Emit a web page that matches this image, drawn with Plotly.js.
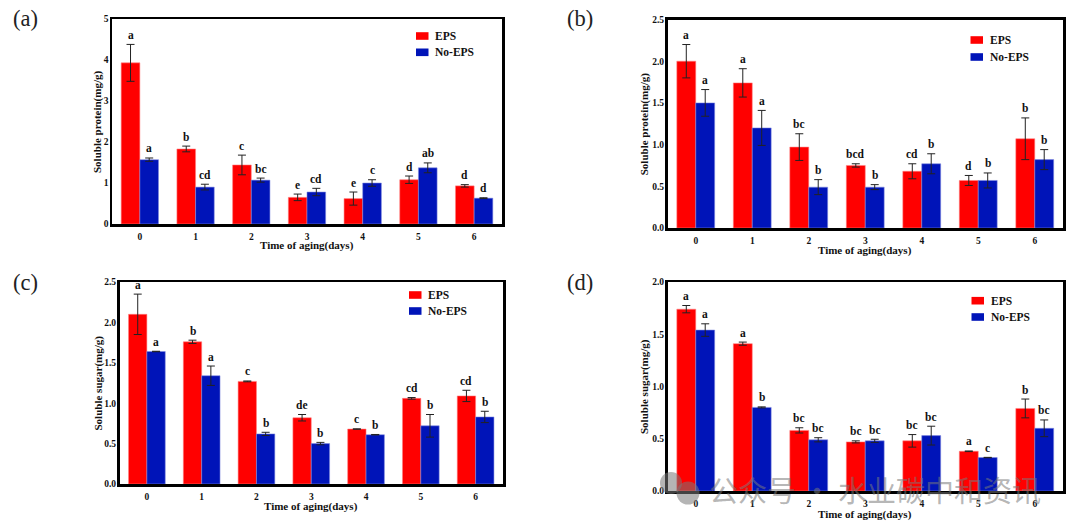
<!DOCTYPE html>
<html><head><meta charset="utf-8">
<script src="https://cdn.plot.ly/plotly-3.0.1.min.js"></script>
<style>html,body{margin:0;padding:0;background:#fff}#c{width:1073px;height:532px}</style>
</head><body><div id="c"></div>
<script>
const days = ['0','1','2','3','4','5','6'];
const seriesNames = ['EPS','No-EPS'];
const xTitle = 'Time of aging(days)';

const aEps = [3.93,1.83,1.44,0.65,0.62,1.08,0.93];
const aEpsErr = [0.45,0.07,0.24,0.08,0.16,0.09,0.03];
const aNo = [1.57,0.90,1.07,0.78,1.00,1.37,0.63];
const aNoErr = [0.04,0.07,0.05,0.09,0.08,0.12,0.01];
const aEpsSig = ['a','b','c','e','e','d','d'];
const aNoSig = ['a','cd','bc','cd','c','ab','d'];

const bEps = [2.00,1.74,0.97,0.75,0.68,0.57,1.07];
const bEpsErr = [0.20,0.17,0.16,0.02,0.09,0.06,0.25];
const bNo = [1.50,1.20,0.49,0.49,0.77,0.57,0.82];
const bNoErr = [0.16,0.21,0.09,0.03,0.12,0.09,0.12];
const bEpsSig = ['a','a','bc','bcd','cd','d','b'];
const bNoSig = ['a','a','b','b','b','b','b'];

const cEps = [2.10,1.76,1.27,0.82,0.68,1.06,1.09];
const cEpsErr = [0.25,0.02,0.005,0.04,0.002,0.01,0.07];
const cNo = [1.64,1.34,0.62,0.50,0.61,0.72,0.83];
const cNoErr = [0.003,0.12,0.02,0.015,0.003,0.14,0.07];
const cEpsSig = ['a','b','c','de','c','cd','cd'];
const cNoSig = ['a','a','b','b','b','b','b'];

const dEps = [1.74,1.41,0.58,0.47,0.48,0.38,0.79];
const dEpsErr = [0.035,0.015,0.025,0.01,0.06,0.003,0.09];
const dNo = [1.54,0.80,0.49,0.48,0.53,0.32,0.60];
const dNoErr = [0.06,0.005,0.02,0.015,0.09,0.002,0.08];
const dEpsSig = ['a','a','bc','bc','bc','a','b'];
const dNoSig = ['a','b','bc','bc','bc','c','bc'];

const W = 1073, H = 532;
const RED = '#ff0000', BLUE = '#0014b8';
const SERIF = '"Liberation Serif", serif';
const fx = p => p / W, fy = p => 1 - p / H;

const panels = [
 {tag:'(a)', tagX:10.5, tagY:19, box:[112,502,19,224], ymax:5, dtick:1, fmt:'d', yt:'Soluble protein(mg/g)',
  eps:aEps, epsErr:aEpsErr, no:aNo, noErr:aNoErr, epsSig:aEpsSig, noSig:aNoSig, leg:[416,36,52.3], tx:97.5, xty:245},
 {tag:'(b)', tagX:564.5, tagY:19, box:[667.5,1063,19.5,228], ymax:2.5, dtick:0.5, fmt:'.1f', yt:'Soluble protein(mg/g)',
  eps:bEps, epsErr:bEpsErr, no:bNo, noErr:bNoErr, epsSig:bEpsSig, noSig:bNoSig, leg:[970.5,40,57], tx:644.5, xty:251},
 {tag:'(c)', tagX:10.5, tagY:282, box:[119.5,503,282,484], ymax:2.5, dtick:0.5, fmt:'.1f', yt:'Soluble sugar(mg/g)',
  eps:cEps, epsErr:cEpsErr, no:cNo, noErr:cNoErr, epsSig:cEpsSig, noSig:cNoSig, leg:[409,295,311], tx:97.5, xty:506},
 {tag:'(d)', tagX:564.5, tagY:282, box:[667.5,1063,282,491], ymax:2, dtick:0.5, fmt:'.1f', yt:'Soluble sugar(mg/g)',
  eps:dEps, epsErr:dEpsErr, no:dNo, noErr:dNoErr, epsSig:dEpsSig, noSig:dNoSig, leg:[971.5,300.7,317], tx:644.5, xty:514}
];

const data = [], annotations = [], shapes = [];
const layout = {
  width:W, height:H, margin:{l:0,r:0,t:0,b:0}, paper_bgcolor:'#fff', plot_bgcolor:'#fff',
  barmode:'group', bargap:0.33, bargroupgap:0, showlegend:false,
  font:{family:SERIF, color:'#111', size:9}
};
const OFF = 0.167;

panels.forEach((p,i)=>{
  const n = i===0 ? '' : String(i+1);
  const xa = 'x'+n, ya = 'y'+n;
  const [l,r,t,b] = p.box;
  const axisBase = {showline:true, mirror:true, linewidth:2.5, linecolor:'#000', showgrid:false, zeroline:false, ticks:'', fixedrange:true,
    tickfont:{family:SERIF, size:9.5, weight:'bold', color:'#111'}};
  layout['xaxis'+n] = Object.assign({}, axisBase, {anchor:ya, domain:[fx(l),fx(r)], type:'linear', range:[-0.5,6.5], tickmode:'array', tickvals:days.map(Number), ticktext:days,
    ticklabelstandoff:2, title:{text:''}});
  layout['yaxis'+n] = Object.assign({}, axisBase, {anchor:xa, domain:[fy(b),fy(t)], range:[0,p.ymax], tick0:0, dtick:p.dtick, tickformat:p.fmt,
    ticklabelstandoff:-1, title:{text:''}});
  const xs = days.map(Number);
  [[p.eps,p.epsErr,RED,'rgba(255,130,130,0.7)',0],[p.no,p.noErr,BLUE,'rgba(130,140,225,0.7)',1]].forEach(([v,e,c,lc,k])=>{
    data.push({type:'bar', name:seriesNames[k], x:xs, y:v, xaxis:xa, yaxis:ya, offsetgroup:String(k),
      marker:{color:c, line:{color:lc, width:0.8}},
      error_y:{type:'data', array:e, visible:true, color:'#222', thickness:1, width:4}});
  });
  const sig = (v,e,s,sign)=> s.forEach((txt,j)=>annotations.push({xref:xa, yref:ya, x:j+sign*OFF, y:v[j]+e[j], yanchor:'bottom', yshift:1.5,
    text:'<b>'+txt+'</b>', showarrow:false, font:{family:SERIF,size:11.5,color:'#111'}}));
  sig(p.eps,p.epsErr,p.epsSig,-1);
  sig(p.no,p.noErr,p.noSig,1);
  annotations.push({xref:'paper', yref:'paper', x:(fx(l)+fx(r))/2, y:fy(p.xty), showarrow:false, xanchor:'center', yanchor:'middle',
    text:'<b>'+xTitle+'</b>', font:{family:SERIF,size:11,color:'#111'}});
  annotations.push({xref:'paper', yref:'paper', x:fx(p.tx), y:(fy(t)+fy(b))/2, textangle:-90, showarrow:false, xanchor:'center', yanchor:'middle',
    text:'<b>'+p.yt+'</b>', font:{family:SERIF,size:11,color:'#111'}});
  annotations.push({xref:'paper', yref:'paper', x:fx(p.tagX), y:fy(p.tagY), xanchor:'left', yanchor:'middle', showarrow:false,
    text:p.tag, font:{family:SERIF,size:22.5,color:'#222'}});
  const [lx,ly1,ly2] = p.leg;
  [[ly1,RED,0],[ly2,BLUE,1]].forEach(([yy,c,k])=>{
    shapes.push({type:'rect', xref:'paper', yref:'paper', x0:fx(lx), x1:fx(lx+12.5), y0:fy(yy-3.8), y1:fy(yy+3.8), fillcolor:c, line:{width:0}});
    annotations.push({xref:'paper', yref:'paper', x:fx(lx+17), y:fy(yy), xanchor:'left', yanchor:'middle', showarrow:false,
      text:'<b>'+seriesNames[k]+'</b>', font:{family:SERIF,size:11.5,color:'#111'}});
  });
});

// watermark
const wm = 'rgba(120,120,120,0.55)';
[[671,483,11],[688,493,11.5]].forEach(([cx,cy,r])=>shapes.push({type:'circle', xref:'paper', yref:'paper', layer:'above',
  x0:fx(cx-r), x1:fx(cx+r), y0:fy(cy-r), y1:fy(cy+r), fillcolor:wm, line:{width:0}}));
annotations.push({xref:'paper', yref:'paper', x:fx(707), y:fy(489), xanchor:'left', yanchor:'middle', showarrow:false,
  text:'公众号 · 水业碳中和资讯', font:{family:'"Noto Sans CJK SC"', size:29, color:wm}});

layout.annotations = annotations;
layout.shapes = shapes;
Plotly.newPlot('c', data, layout, {displayModeBar:false, staticPlot:true});
</script></body></html>
